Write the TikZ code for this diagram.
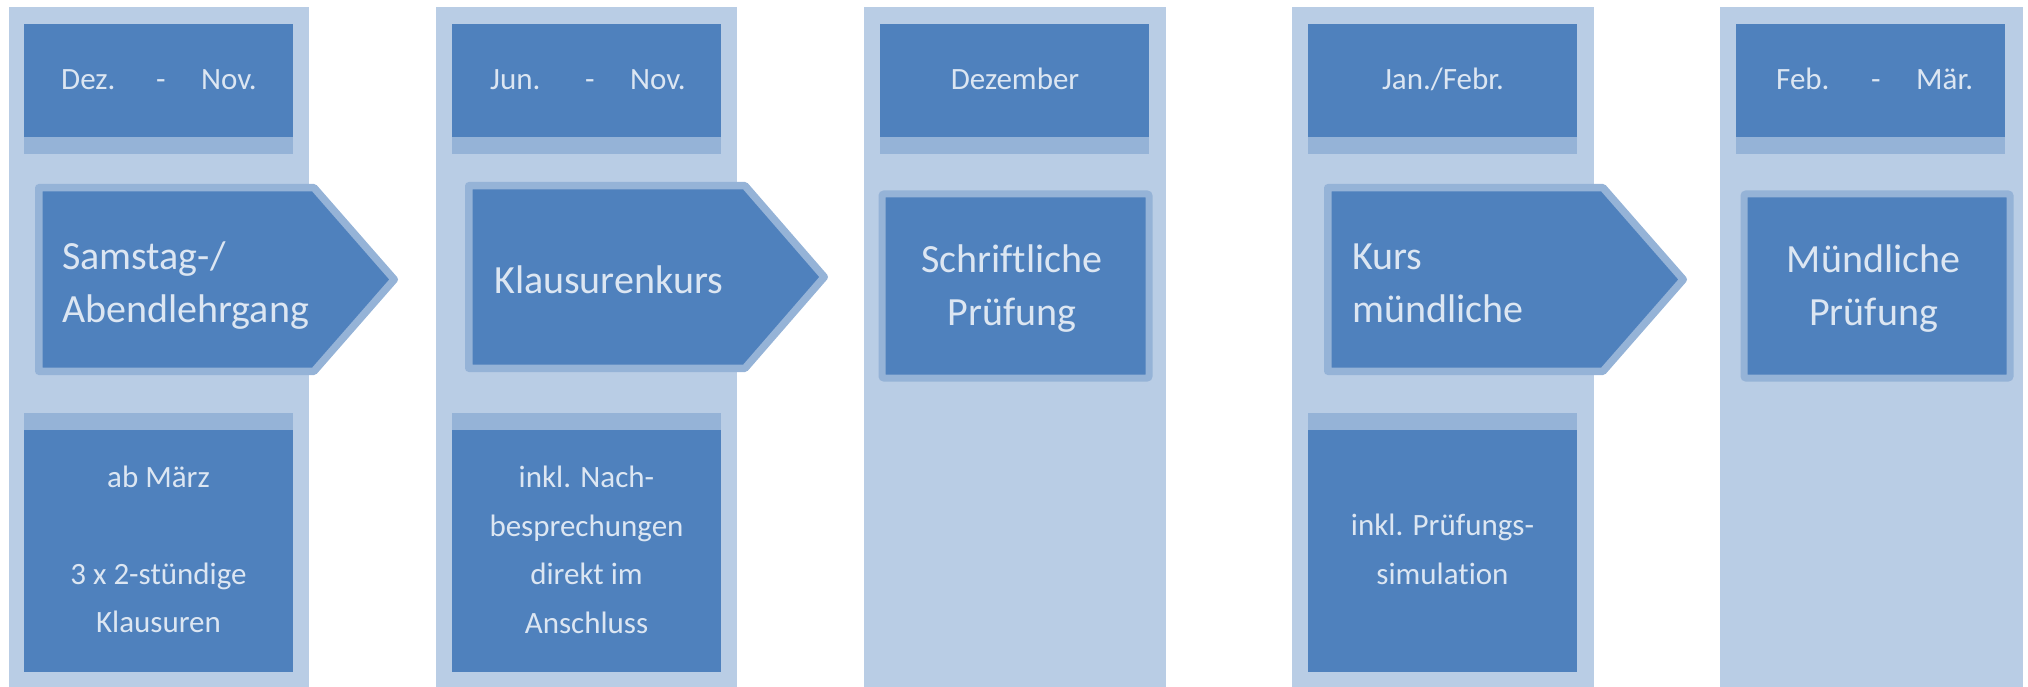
\documentclass[tikz,border=0pt]{standalone}
\usepackage{fontspec}
\setmainfont{Carlito}[Ligatures={NoCommon}]
\definecolor{bgc}{HTML}{B9CDE5}
\definecolor{darkc}{HTML}{4F81BD}
\definecolor{midc}{HTML}{95B3D7}
\definecolor{txtc}{HTML}{DCE6F2}
\newcommand{\tabdate}[2]{\makebox[95pt][l]{#1}\makebox[45pt][l]{-}#2}
\begin{document}
\begin{tikzpicture}[x=1pt,y=-1pt,
  colbg/.style={fill=bgc, draw=none, inner sep=0pt, anchor=north west, minimum height=680pt},
  datebox/.style={fill=darkc, draw=none, inner sep=0pt, anchor=north west, minimum width=269pt, minimum height=113pt},
  infobox/.style={fill=darkc, draw=none, inner sep=0pt, anchor=north west, minimum width=269pt, minimum height=242pt},
  strip/.style={fill=midc},
  arrowshape/.style={fill=darkc, draw=midc, line width=7.5pt, line join=round},
  midbox/.style={fill=darkc, draw=midc, line width=7pt, rounded corners=2pt, inner sep=0pt, anchor=north west, minimum height=184pt},
  datetxt/.style={text=txtc, inner sep=0pt, font=\fontsize{31}{37}\selectfont},
  bigtxt/.style={text=txtc, inner sep=0pt, font=\fontsize{40}{53}\selectfont},
  smalltxt/.style={text=txtc, inner sep=0pt, align=center, font=\fontsize{31}{48.5}\selectfont}
]
\useasboundingbox (0,0) rectangle (2028,687);

% column backgrounds
\node[colbg, minimum width=300pt] (c1) at (9,7) {};
\node[colbg, minimum width=301pt] (c2) at (436,7) {};
\node[colbg, minimum width=302pt] (c3) at (864,7) {};
\node[colbg, minimum width=302pt] (c4) at (1292,7) {};
\node[colbg, minimum width=303pt] (c5) at (1720,7) {};

% date boxes
\foreach \n/\x in {1/24, 2/452, 3/880, 4/1308, 5/1736} {
  \node[datebox] (d\n) at (\x,24) {};
  \fill[strip] (d\n.south west) rectangle ([yshift=-17pt]d\n.south east);
}

% info boxes
\foreach \n/\x in {1/24, 2/452, 4/1308} {
  \node[infobox] (i\n) at (\x,430) {};
  \fill[strip] (i\n.north west) rectangle ([yshift=17pt]i\n.north east);
}

% arrows
\draw[arrowshape] (38.75,187.75) -- (314,187.75) -- (394.25,279.5) -- (314,371.25) -- (38.75,371.25) -- cycle;
\draw[arrowshape] (468.75,185.75) -- (745,185.75) -- (824.25,277) -- (745,368.25) -- (468.75,368.25) -- cycle;
\draw[arrowshape] (1327.75,187.75) -- (1603,187.75) -- (1683.25,279.5) -- (1603,371.25) -- (1327.75,371.25) -- cycle;

% plain boxes
\node[midbox, minimum width=267pt] (m3) at (878.5,190.5) {};
\node[midbox, minimum width=266pt] (m5) at (1740.5,190.5) {};

% date texts
\node[datetxt, anchor=base west] (t1) at (61,90) {\tabdate{Dez.}{Nov.}};
\node[datetxt, anchor=base west] (t2) at (490,90) {\tabdate{Jun.}{Nov.}};
\node[datetxt, anchor=base] (t3) at (1015,90) {Dezember};
\node[datetxt, anchor=base] (t4) at (1443,90) {Jan./Febr.};
\node[datetxt, anchor=base west] (t5) at (1776,90) {\tabdate{Feb.}{Mär.}};

% arrow texts (base anchor = baseline of last line)
\node[bigtxt, align=left, anchor=base west] (a1) at (62,322) {Samstag-/\\Abendlehrgang};
\node[bigtxt, anchor=base west] (a2) at (494,293) {Klausurenkurs};
\node[bigtxt, align=left, anchor=base west] (a4) at (1352,322) {Kurs\\mündliche};

% box texts
\node[bigtxt, align=center, anchor=base] (s3) at (1012,325) {Schriftliche\\Prüfung};
\node[bigtxt, align=center, anchor=base] (s5) at (1873.5,325) {Mündliche\\Prüfung};

% info texts
\node[smalltxt, anchor=base] (b1) at (158.5,632.5) {ab März\\\mbox{}\\3 x 2-stündige\\Klausuren};
\node[smalltxt, anchor=base] (b2) at (586.5,633) {inkl. Nach-\\besprechungen\\direkt im\\Anschluss};
\node[smalltxt, anchor=base] (b4) at (1442.5,584) {inkl. Prüfungs-\\simulation};
\end{tikzpicture}
\end{document}
